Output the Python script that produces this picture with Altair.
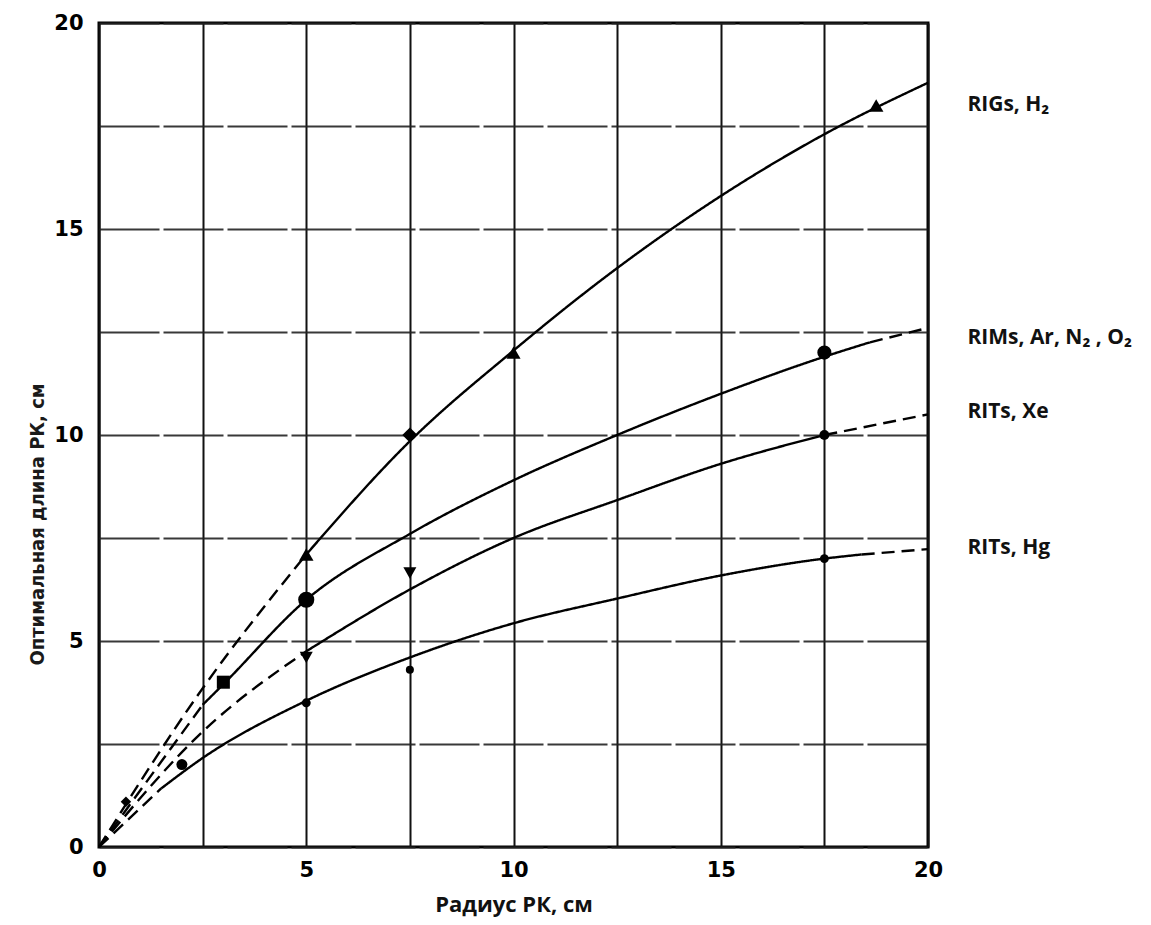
import altair as alt
import pandas as pd

# Curve readings: x (radius, cm) and y (optimal length, cm) for each discharge type
rigs_x = [0, 2.5, 5, 7.5, 10, 12.5, 15, 17.5, 20]
rigs_y = [0, 3.85, 7.1, 9.85, 12.05, 14.05, 15.8, 17.3, 18.55]

rims_x = [0, 2.5, 3, 5, 7.5, 10, 12.5, 15, 17.5, 18.6, 20]
rims_y = [0, 3.45, 3.95, 6.0, 7.6, 8.9, 10.0, 11.0, 11.9, 12.25, 12.6]

xe_x = [0, 2.5, 5, 7.5, 10, 12.5, 15, 17.5, 20]
xe_y = [0, 2.8, 4.75, 6.25, 7.5, 8.42, 9.3, 10.0, 10.5]

hg_x = [0, 1.5, 2.5, 5, 7.5, 10, 12.5, 15, 17.5, 18.4, 20]
hg_y = [0, 1.42, 2.16, 3.55, 4.6, 5.43, 6.03, 6.59, 7.0, 7.1, 7.23]

# x-range drawn solid for each curve (dashed outside it)
solid_ranges = {
    "RIGs": (5, 20),
    "RIMs": (2.5, 18.6),
    "Xe": (5, 17.5),
    "Hg": (1.5, 18.4),
}

# Measured points
pt_x = [5, 7.5, 10, 18.75, 0.65, 3, 5, 17.5, 5, 7.5, 17.5, 2, 5, 7.5, 17.5]
pt_y = [7.1, 10, 12, 18, 1.1, 4, 6, 12, 4.6, 6.65, 10, 2, 3.5, 4.3, 7]
pt_shape = ["triangle-up", "diamond", "triangle-up", "triangle-up",
            "diamond", "square", "circle", "circle",
            "triangle-down", "triangle-down", "circle",
            "circle", "circle", "circle", "circle"]
pt_size = [210, 230, 200, 210, 110, 170, 260, 200, 170, 170, 100, 120, 80, 65, 80]

# Right-hand curve labels
label_text = ["RIGs, H₂", "RIMs, Ar, N₂ , O₂", "RITs, Xe", "RITs, Hg"]
label_y = [18.0, 12.35, 10.55, 7.25]
label_x = [20.95, 20.95, 20.95, 20.95]

grid_vals = [0, 2.5, 5, 7.5, 10, 12.5, 15, 17.5, 20]

curves = {"RIGs": (rigs_x, rigs_y), "RIMs": (rims_x, rims_y),
          "Xe": (xe_x, xe_y), "Hg": (hg_x, hg_y)}

rows = []
for name, (xs, ys) in curves.items():
    lo, hi = solid_ranges[name]
    for xv, yv in zip(xs, ys):
        if xv <= lo:
            rows.append(dict(x=xv, y=yv, seg=f"{name}-a", style="dashed"))
        if lo <= xv <= hi:
            rows.append(dict(x=xv, y=yv, seg=f"{name}-b", style="solid"))
        if xv >= hi:
            rows.append(dict(x=xv, y=yv, seg=f"{name}-c", style="dashed"))
lines_df = pd.DataFrame(rows)

pts_df = pd.DataFrame(dict(x=pt_x, y=pt_y, shape=pt_shape, size=pt_size))
labels_df = pd.DataFrame(dict(x=label_x, y=label_y, text=label_text))

xscale = alt.Scale(domain=[0, 20], nice=False, zero=False)
yscale = alt.Scale(domain=[0, 20], nice=False, zero=False)

tick_font = "DejaVu Sans"
label_expr = "datum.value % 5 == 0 ? datum.label : ''"

x_axis = alt.Axis(
    values=grid_vals, format="d", labelExpr=label_expr, ticks=False,
    grid=True, gridColor="#111111", gridWidth=2, gridOpacity=1,
    domain=False, labelFont=tick_font, labelFontWeight="bold",
    labelFontSize=21, labelColor="#000000", labelPadding=12,
    labelFlush=False, labelOverlap=False,
    title="Радиус РК, см", titleFont="Open Sans", titleFontWeight="bold",
    titleFontSize=22, titleColor="#111111", titlePadding=14,
)
y_axis = alt.Axis(
    values=grid_vals, format="d", labelExpr=label_expr, ticks=False,
    grid=True, gridColor="#222222", gridWidth=1.8, gridOpacity=0.9,
    gridDash=[60, 4], domain=False, labelFont=tick_font,
    labelFontWeight="bold", labelFontSize=21, labelColor="#000000",
    labelPadding=16, labelFlush=False, labelOverlap=False,
    title="Оптимальная длина РК, см", titleFont="DejaVu Sans Condensed",
    titleFontWeight="bold", titleFontSize=20, titleColor="#1a1a1a",
    titleX=-52, titleY=501, titleAngle=-90,
)

lines = alt.Chart(lines_df).mark_line(
    color="#000000", strokeWidth=2.4, interpolate="monotone"
).encode(
    x=alt.X("x:Q", scale=xscale, axis=x_axis),
    y=alt.Y("y:Q", scale=yscale, axis=y_axis),
    detail="seg:N",
    order="x:Q",
    strokeDash=alt.StrokeDash(
        "style:N",
        scale=alt.Scale(domain=["solid", "dashed"], range=[[1, 0], [13, 7]]),
        legend=None,
    ),
)

points = alt.Chart(pts_df).mark_point(
    filled=True, color="#000000", opacity=1
).encode(
    x=alt.X("x:Q", scale=xscale),
    y=alt.Y("y:Q", scale=yscale),
    shape=alt.Shape("shape:N", scale=None),
    size=alt.Size("size:Q", scale=None),
)

labels = alt.Chart(labels_df).mark_text(
    align="left", baseline="middle", font="Open Sans", fontWeight="bold",
    fontSize=21, color="#111111", clip=False
).encode(
    x=alt.X("x:Q", scale=xscale),
    y=alt.Y("y:Q", scale=yscale),
    text="text:N",
)

chart = alt.layer(lines, points, labels).properties(
    width=829,
    height=824,
    autosize=alt.AutoSizeParams(type="none"),
    padding={"left": 99, "top": 23, "right": 223, "bottom": 78},
    background="#ffffff",
).configure_view(
    stroke="#000000", strokeWidth=3
)

chart.save("out.html", embed_options={"renderer": "svg", "actions": False})
